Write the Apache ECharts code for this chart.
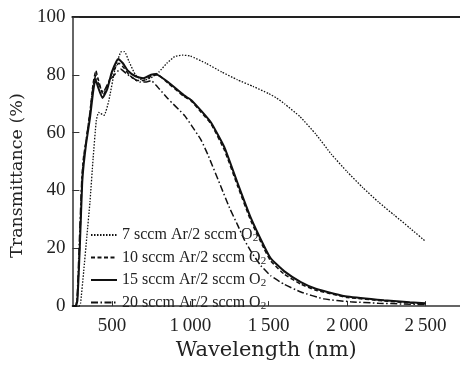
<!DOCTYPE html>
<html><head><meta charset="utf-8">
<script src="https://cdn.jsdelivr.net/npm/echarts@6/dist/echarts.min.js"></script>
<style>html,body{margin:0;padding:0;background:#fff}#c{width:460px;height:366px}</style>
</head><body><div id="c"></div>
<script>
var seriesNames = ['7 sccm Ar/2 sccm O2', '10 sccm Ar/2 sccm O2', '15 sccm Ar/2 sccm O2', '20 sccm Ar/2 sccm O2'];
var xTicks = [500, 1000, 1500, 2000, 2500];
var yTicks = [0, 20, 40, 60, 80, 100];

var s7 = [[250,0],[290,0],[300,1],[320,12],[340,24],[360,36],[380,51],[400,64],[415,67],[450,66],[480,71],[520,82],[560,88],[580,88],[610,84.5],[650,80],[700,78],[750,79],[800,81],[850,84],[900,86.3],[950,86.8],[1000,86.5],[1100,84],[1200,81],[1300,78.3],[1400,76],[1500,73.5],[1550,72],[1600,70],[1700,65.5],[1800,59.5],[1900,52.5],[2000,46.5],[2100,41],[2200,36],[2300,31.5],[2400,27],[2500,22.4]];

var s10 = [[250,0],[270,0],[280,3],[295,22],[310,45],[320,52],[335,57],[360,67],[380,77],[398,81.5],[410,79],[445,73],[470,76],[500,80.5],[545,84],[575,82.5],[610,80],[660,78],[700,78],[750,79.5],[790,80],[860,77],[960,72.5],[1005,71],[1070,67],[1132,63],[1217,54],[1302,41.5],[1386,29.5],[1471,19.8],[1513,15.6],[1600,11],[1705,7.6],[1800,5.5],[1917,4],[2000,3],[2235,1.8],[2400,1.1],[2500,0.8]];

var s15 = [[250,0],[270,0],[280,2],[295,20],[310,42],[320,49],[335,56],[360,65],[380,74],[395,78.5],[410,76],[440,72],[470,75],[500,81],[540,85.5],[570,84],[600,81.5],[650,79.5],[700,78.8],[750,80],[780,80.3],[820,79],[860,77.4],[960,72.9],[1005,71.3],[1070,67.5],[1132,63.5],[1217,55],[1302,42.5],[1386,30.5],[1471,20.7],[1513,16.5],[1600,12],[1705,8.3],[1800,6],[1917,4.3],[2000,3.3],[2235,2],[2400,1.3],[2500,1]];

var s20 = [[250,0],[268,0],[278,3],[292,22],[308,44],[320,51],[335,57],[360,67],[380,76],[398,80],[410,77.5],[445,74],[470,76.5],[500,79],[555,82],[590,80.5],[630,79],[680,77.5],[720,77.5],[750,78],[780,76.5],[856,71.8],[962,66],[1005,62.7],[1068,57.5],[1111,52.5],[1196,41.2],[1250,34],[1302,28],[1344,23],[1386,19],[1450,14],[1513,10.5],[1600,7.5],[1705,4.9],[1850,2.5],[2022,1.5],[2200,1],[2500,0.5]];

var dataSets = [s7, s10, s15, s20];
var styles = [
  {type: [1.5, 1.5], width: 1.3},
  {type: [4, 2.5], width: 1.5},
  {type: 'solid', width: 2},
  {type: [7, 2.5, 1.5, 2.5], width: 1.5}
];

var serif = 'Liberation Serif';
var chart = echarts.init(document.getElementById('c'), null, {renderer: 'canvas'});
var series = dataSets.map(function (d, i) {
  return {
    name: seriesNames[i], type: 'line', data: d, showSymbol: false, symbol: 'none',
    smooth: 0.15,
    lineStyle: {color: '#111', width: styles[i].width, type: styles[i].type},
    itemStyle: {color: '#111'}
  };
});

chart.setOption({
  animation: false,
  backgroundColor: '#fff',
  grid: {left: 71, right: 0, top: 17, bottom: 55},
  legend: {
    orient: 'vertical', left: 85, top: 220, itemWidth: 26, itemHeight: 14, itemGap: 3.5,
    data: seriesNames,
    itemStyle: {color: 'transparent', borderColor: 'transparent', borderWidth: 0, opacity: 0},
    lineStyle: {color: '#111'},
    formatter: function (n) { return '{a|' + n.slice(0, -1) + '}{s|2}'; },
    textStyle: {
      fontFamily: serif, color: '#222',
      rich: {
        a: {fontFamily: serif, fontSize: 16, color: '#222', lineHeight: 18},
        s: {fontFamily: serif, fontSize: 11, color: '#222', lineHeight: 18, verticalAlign: 'bottom', padding: [8, 0, 0, 0]}
      }
    }
  },
  xAxis: [{
    type: 'value', min: 248, max: 2720,
    name: 'Wavelength (nm)', nameLocation: 'middle', nameGap: 30,
    nameTextStyle: {fontFamily: 'DejaVu Serif', fontSize: 21, color: '#222'},
    axisLine: {show: true, lineStyle: {color: '#333', width: 1.5}},
    axisTick: {show: true, inside: true, length: 5, customValues: xTicks, lineStyle: {color: '#333', width: 1}},
    axisLabel: {customValues: xTicks, margin: 10, fontFamily: serif, fontSize: 19, color: '#222',
      formatter: function (v) { return v >= 1000 ? Math.floor(v / 1000) + '\u2009' + String(v % 1000).padStart(3, '0') : String(v); }},
    splitLine: {show: false}
  }, {
    type: 'value', min: 248, max: 2720, position: 'top',
    axisLine: {show: true, onZero: false, lineStyle: {color: '#222', width: 2}},
    axisTick: {show: false}, axisLabel: {show: false}, splitLine: {show: false}
  }],
  yAxis: {
    type: 'value', min: 0, max: 100, interval: 20,
    name: 'Transmittance (%)', nameLocation: 'middle', nameGap: 43,
    nameTextStyle: {fontFamily: 'DejaVu Serif', fontSize: 17.5, color: '#222', padding: [0, 28, 0, 0]},
    axisLine: {show: true, lineStyle: {color: '#333', width: 1.5}},
    axisTick: {show: true, inside: true, length: 7, lineStyle: {color: '#333', width: 1}},
    axisLabel: {margin: 7, fontFamily: serif, fontSize: 19, color: '#222'},
    splitLine: {show: false}
  },
  series: series
});
</script></body></html>
